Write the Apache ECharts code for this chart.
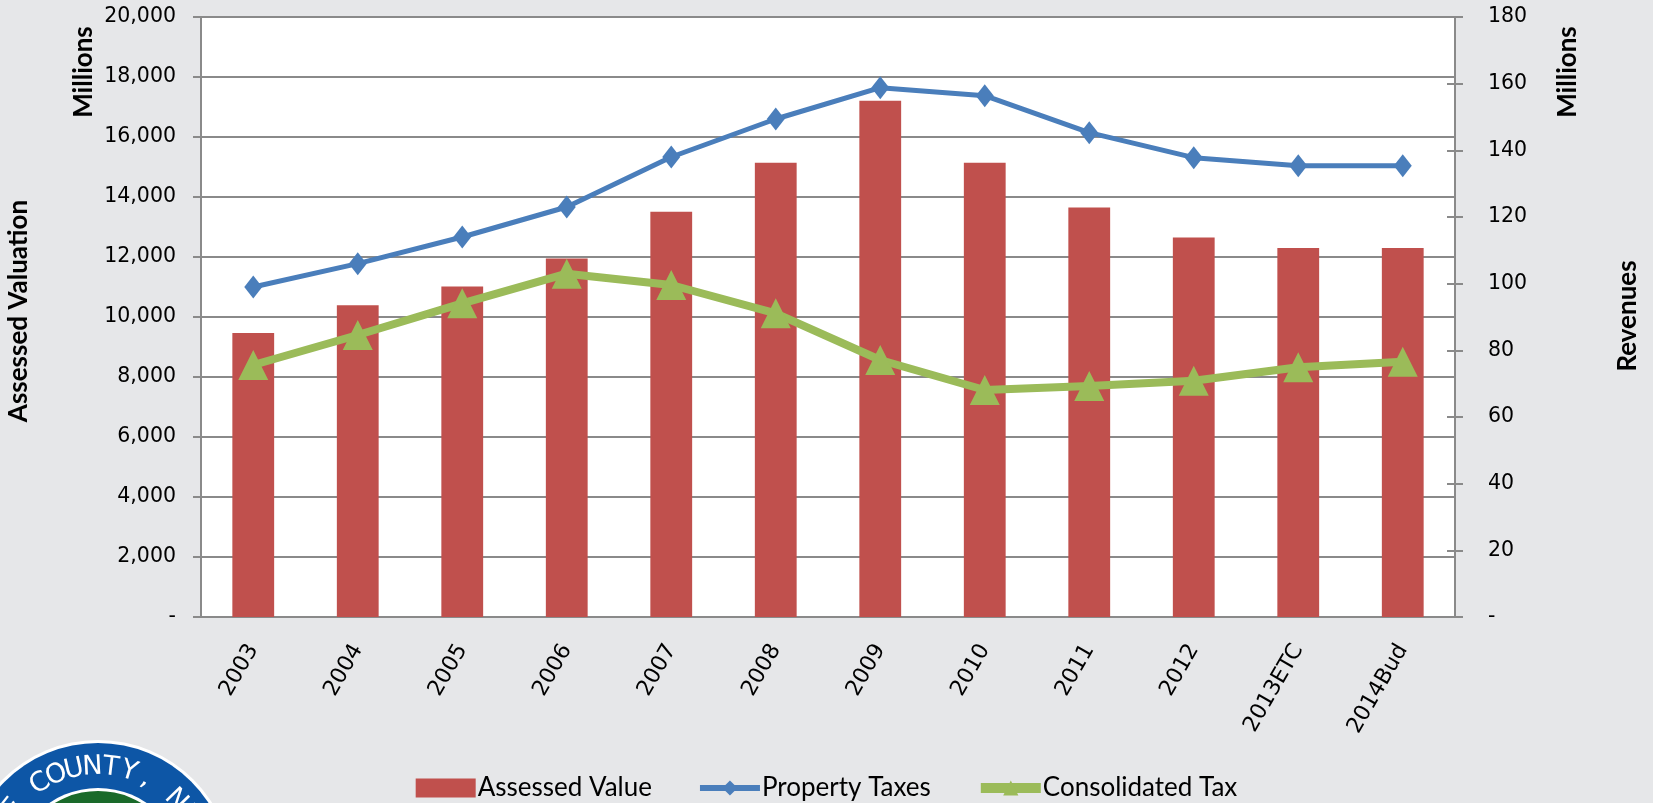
<!DOCTYPE html>
<html lang="en">
<head>
    <meta charset="UTF-8">
    <title>Assessed Valuation and Revenues</title>
    <style>
        html, body { margin: 0; padding: 0; background: #e6e7e9; }
        #chart { width: 1653px; height: 803px; }
    </style>
</head>
<body>
<div id="chart"></div>
<script src="https://cdn.jsdelivr.net/npm/echarts@6/dist/echarts.min.js"></script>
<script type="text/javascript">

    // values (millions)
    var years = ['2003', '2004', '2005', '2006', '2007', '2008', '2009', '2010', '2011', '2012', '2013ETC', '2014Bud'];
    var assessedValue = [9470, 10390, 11020, 11950, 13510, 15140, 17210, 15140, 13650, 12650, 12300, 12300];
    var propertyTaxes = [99.0, 106.0, 114.0, 123.0, 138.0, 149.4, 158.8, 156.4, 145.3, 137.8, 135.4, 135.4];
    var consolidatedTax = [75.6, 84.6, 94.1, 103.0, 99.6, 91.1, 77.1, 68.1, 69.3, 70.9, 74.9, 76.6];

    var tickFont = 'DejaVu Sans';
    var gray = '#8a8a8a';

    function fmt(v) {
        if (v === 0) return '-';
        return v.toString().replace(/\B(?=(\d{3})+(?!\d))/g, ',');
    }

    // seal in the bottom-left corner, letters laid along the ring
    function sealGraphic() {
        var cx = 98, cy = 875, els = [];
        els.push({type: 'circle', shape: {cx: cx, cy: cy, r: 135}, style: {fill: '#ffffff'}, z: 10});
        els.push({type: 'circle', shape: {cx: cx, cy: cy, r: 132}, style: {fill: '#0d56a6'}, z: 11});
        els.push({type: 'circle', shape: {cx: cx, cy: cy, r: 87}, style: {fill: '#ffffff'}, z: 12});
        els.push({type: 'circle', shape: {cx: cx, cy: cy, r: 84}, style: {fill: '#1a6a2a'}, z: 13});
        var txt = 'WASHOE COUNTY, NEVADA';
        for (var i = 0; i < txt.length; i++) {
            var a = (90 + (10.3 - i) * 9.8) * Math.PI / 180;
            els.push({
                type: 'text', z: 14,
                x: cx + 108 * Math.cos(a), y: cy - 108 * Math.sin(a),
                rotation: a - Math.PI / 2,
                style: {
                    text: txt[i], fill: '#ffffff', font: '27px "DejaVu Sans"',
                    align: 'center', verticalAlign: 'middle'
                }
            });
        }
        return els;
    }

    var titleStyle = {fill: '#000', font: 'bold 26px Lato', align: 'center', verticalAlign: 'middle'};

    var myChart = echarts.init(document.getElementById('chart'));
    var option = {
        backgroundColor: '#e6e7e9',
        animation: false,
        grid: {left: 201, right: 198, top: 17, bottom: 186, show: true, backgroundColor: '#ffffff', borderWidth: 0},
        legend: {
            bottom: -3, left: 'center',
            itemGap: 45, itemWidth: 60, itemHeight: 19,
            textStyle: {fontFamily: 'Lato', fontSize: 26, color: '#000', padding: [0, 0, 0, -3]},
            data: [
                {name: 'Assessed Value', icon: 'rect'},
                {name: 'Property Taxes', lineStyle: {width: 6}},
                {name: 'Consolidated Tax', lineStyle: {width: 10}}
            ]
        },
        xAxis: {
            type: 'category',
            data: years,
            axisLine: {lineStyle: {color: gray, width: 2}},
            axisTick: {show: false},
            axisLabel: {rotate: 60, margin: 29, fontFamily: tickFont, fontSize: 22, color: '#000'}
        },
        yAxis: [
            {
                type: 'value', min: 0, max: 20000, interval: 2000,
                axisLine: {show: true, lineStyle: {color: gray, width: 2}},
                axisTick: {show: true, length: 8, lineStyle: {color: gray, width: 2}},
                axisLabel: {formatter: fmt, fontFamily: tickFont, fontSize: 20.5, color: '#000', margin: 25},
                splitLine: {lineStyle: {color: gray, width: 2}}
            },
            {
                type: 'value', min: 0, max: 180, interval: 20, position: 'right',
                axisLine: {show: true, lineStyle: {color: gray, width: 2}},
                axisTick: {show: true, length: 8, lineStyle: {color: gray, width: 2}},
                axisLabel: {formatter: fmt, fontFamily: tickFont, fontSize: 20.5, color: '#000', margin: 33},
                splitLine: {show: false}
            },
            {
                // inner half of the crossing ticks on the right
                type: 'value', min: 0, max: 180, interval: 20, position: 'right',
                axisLine: {show: false},
                axisTick: {show: true, inside: true, length: 8, lineStyle: {color: gray, width: 2}},
                axisLabel: {show: false},
                splitLine: {show: false}
            }
        ],
        series: [
            {
                name: 'Assessed Value', type: 'bar', yAxisIndex: 0,
                data: assessedValue, barWidth: '40%',
                itemStyle: {color: '#c0504d'}
            },
            {
                name: 'Property Taxes', type: 'line', yAxisIndex: 1,
                data: propertyTaxes,
                symbol: 'diamond', symbolSize: [18, 23],
                lineStyle: {color: '#4a7ebb', width: 5},
                itemStyle: {color: '#4a7ebb'}
            },
            {
                name: 'Consolidated Tax', type: 'line', yAxisIndex: 1,
                data: consolidatedTax,
                symbol: 'triangle', symbolSize: [30, 30],
                lineStyle: {color: '#9bbb59', width: 8},
                itemStyle: {color: '#9bbb59'}
            }
        ],
        graphic: [
            {type: 'text', x: 19, y: 311, rotation: Math.PI / 2, style: Object.assign({text: 'Assessed Valuation'}, titleStyle)},
            {type: 'text', x: 84, y: 72, rotation: Math.PI / 2, style: Object.assign({text: 'Millions'}, titleStyle)},
            {type: 'text', x: 1568, y: 72, rotation: Math.PI / 2, style: Object.assign({text: 'Millions'}, titleStyle)},
            {type: 'text', x: 1628, y: 316, rotation: Math.PI / 2, style: Object.assign({text: 'Revenues'}, titleStyle)}
        ].concat(sealGraphic())
    };
    myChart.setOption(option);
</script>
</body>
</html>
